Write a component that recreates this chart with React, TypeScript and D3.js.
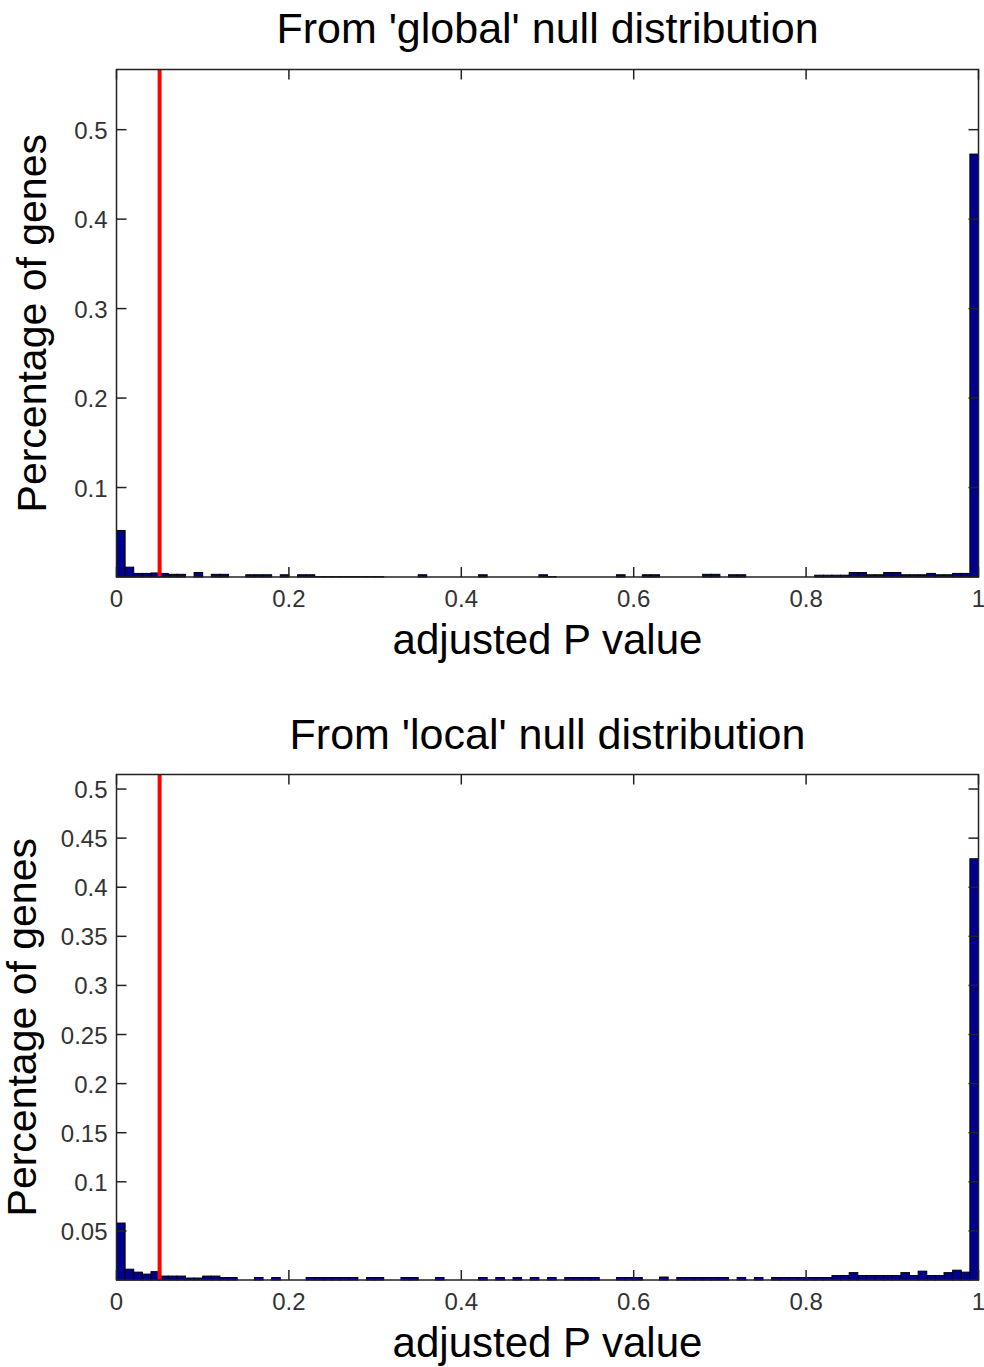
import React from 'react';
import * as d3 from 'd3';

// fraction of genes per 0.01-wide bin of adjusted P value (100 bins)
const globalValues = [
  0.052, 0.011, 0.004, 0.004, 0.0045, 0.004, 0.003, 0.003, 0, 0.005,
  0, 0.003, 0.003, 0, 0, 0.0025, 0.0025, 0.0025, 0, 0.0025,
  0, 0.0025, 0.0025, 0.0005, 0.0005, 0.0005, 0.0005, 0.0005, 0.0005, 0.0005,
  0.0005, 0, 0, 0, 0, 0.0025, 0, 0, 0, 0,
  0, 0, 0.0025, 0, 0, 0, 0, 0, 0, 0.0025,
  0.0005, 0, 0, 0, 0, 0, 0, 0, 0.0025, 0,
  0, 0.0025, 0.0025, 0, 0, 0, 0, 0, 0.003, 0.003,
  0, 0.0025, 0.0025, 0, 0, 0, 0, 0, 0, 0,
  0, 0.002, 0.002, 0.002, 0.002, 0.005, 0.005, 0.0025, 0.0025, 0.005,
  0.005, 0.0025, 0.0025, 0.0025, 0.004, 0.0025, 0.0025, 0.004, 0.004, 0.4727,
];

const localValues = [
  0.058, 0.011, 0.008, 0.006, 0.0085, 0.004, 0.004, 0.004, 0.002, 0.002,
  0.004, 0.004, 0.0025, 0.0025, 0, 0, 0.0025, 0, 0.0025, 0,
  0, 0, 0.0025, 0.0025, 0.0025, 0.0025, 0.0025, 0.0025, 0, 0.0025,
  0.0025, 0, 0, 0.0025, 0.0025, 0, 0, 0.0025, 0, 0,
  0, 0, 0.0025, 0, 0.0025, 0, 0.0025, 0, 0.0025, 0,
  0.0025, 0, 0.0025, 0.0025, 0.0025, 0.0025, 0, 0, 0.0025, 0.0025,
  0.0025, 0, 0, 0.003, 0, 0.0025, 0.0025, 0.0025, 0.0025, 0.0025,
  0.0025, 0, 0.0025, 0, 0.0025, 0, 0.0025, 0.0025, 0.0025, 0.0025,
  0.0025, 0.0025, 0.0025, 0.0045, 0.0045, 0.0075, 0.0045, 0.0045, 0.0045, 0.0045,
  0.0045, 0.0075, 0.0045, 0.009, 0.0045, 0.0045, 0.0075, 0.01, 0.008, 0.429,
];

const binWidth = 0.01;
const cutoff = 0.05;
const xTicks = [0, 0.2, 0.4, 0.6, 0.8, 1];
const globalYTicks = [0.1, 0.2, 0.3, 0.4, 0.5];
const localYTicks = [0.05, 0.1, 0.15, 0.2, 0.25, 0.3, 0.35, 0.4, 0.45, 0.5];

const FONT = "'Liberation Sans', Arial, Helvetica, sans-serif";
const W = 984;
const H = 1367;
const left = 116.5;
const right = 978.5;
const tickLen = 10;

type PanelProps = {
  title: string;
  values: number[];
  yTicks: number[];
  top: number;
  bottom: number;
  titleY: number;
  ylabelX: number;
};

const Panel = ({ title, values, yTicks, top, bottom, titleY, ylabelX }: PanelProps) => {
  const x = d3.scaleLinear().domain([0, 1]).range([left, right]);
  const yMax = (d3.max(values) as number) * 1.2;
  const y = d3.scaleLinear().domain([0, yMax]).range([bottom, top]);
  const midX = (left + right) / 2;
  const midY = (top + bottom) / 2;

  return (
    <g>
      <text x={midX} y={titleY} textAnchor="middle" fontSize={43} fontFamily={FONT} fill="#000">
        {title}
      </text>

      {values.map((v, i) => (
        <rect
          key={i}
          x={x(i * binWidth)}
          y={y(v)}
          width={x((i + 1) * binWidth) - x(i * binWidth)}
          height={y(0) - y(v)}
          fill="#00008f"
          stroke="#000"
          strokeWidth={1}
        />
      ))}

      <line x1={x(cutoff)} x2={x(cutoff)} y1={top} y2={bottom} stroke="#ff0000" strokeWidth={4} />

      <rect x={left} y={top} width={right - left} height={bottom - top} fill="none" stroke="#222" strokeWidth={1.5} />

      {xTicks.map(t => (
        <g key={'x' + t}>
          <line x1={x(t)} x2={x(t)} y1={bottom} y2={bottom - tickLen} stroke="#222" strokeWidth={1.5} />
          <line x1={x(t)} x2={x(t)} y1={top} y2={top + tickLen} stroke="#222" strokeWidth={1.5} />
          <text x={x(t)} y={bottom + 30} textAnchor="middle" fontSize={24} fontFamily={FONT} fill="#333">
            {d3.format('')(t)}
          </text>
        </g>
      ))}

      {yTicks.map(t => (
        <g key={'y' + t}>
          <line x1={left} x2={left + tickLen} y1={y(t)} y2={y(t)} stroke="#222" strokeWidth={1.5} />
          <line x1={right} x2={right - tickLen} y1={y(t)} y2={y(t)} stroke="#222" strokeWidth={1.5} />
          <text x={left - 9} y={y(t) + 9} textAnchor="end" fontSize={24} fontFamily={FONT} fill="#333">
            {String(t)}
          </text>
        </g>
      ))}

      <text x={midX} y={bottom + 77} textAnchor="middle" fontSize={42} fontFamily={FONT} fill="#000">
        adjusted P value
      </text>
      <text
        transform={`translate(${ylabelX},${midY}) rotate(-90)`}
        textAnchor="middle"
        fontSize={41}
        fontFamily={FONT}
        fill="#000"
      >
        Percentage of genes
      </text>
    </g>
  );
};

export default function App() {
  return (
    <svg width={W} height={H} style={{ position: 'absolute', left: 0, top: 0, background: '#fff' }}>
      <rect width={W} height={H} fill="#fff" />
      <Panel
        title="From 'global' null distribution"
        values={globalValues}
        yTicks={globalYTicks}
        top={69.5}
        bottom={577}
        titleY={43}
        ylabelX={46}
      />
      <Panel
        title="From 'local' null distribution"
        values={localValues}
        yTicks={localYTicks}
        top={774.5}
        bottom={1280}
        titleY={749}
        ylabelX={36}
      />
    </svg>
  );
}
